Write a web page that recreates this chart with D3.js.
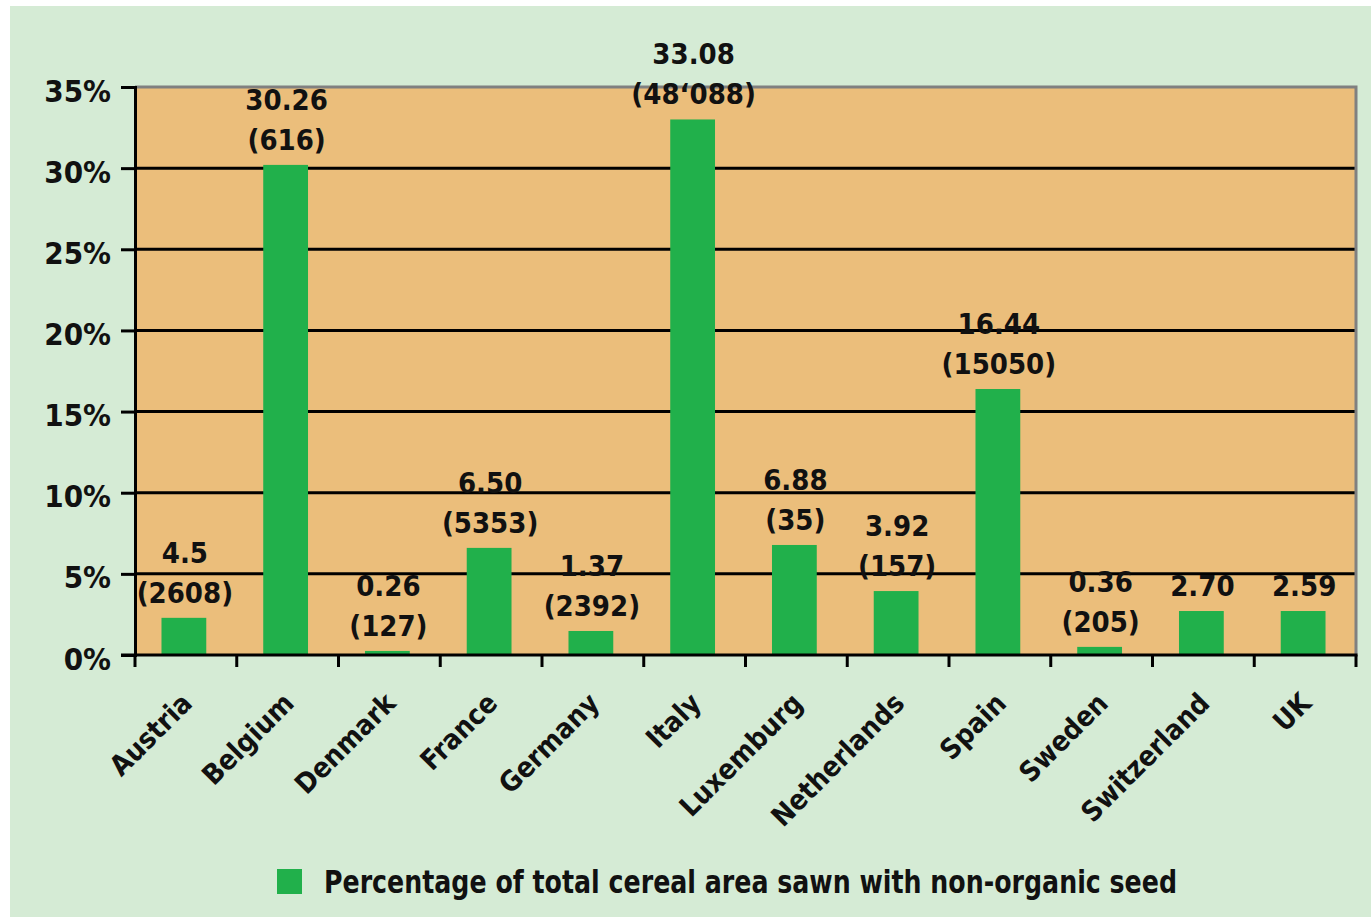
<!DOCTYPE html>
<meta charset="utf-8">
<head>
    <style>
        body {
            margin: 0;
            background-color: #ffffff;
        }
        text {
            font-family: "DejaVu Sans Condensed", "DejaVu Sans", sans-serif;
            font-weight: bold;
            fill: #111111;
        }
        .bar {
            fill: #21b04b;
        }
        .grid line {
            stroke: #000000;
            stroke-width: 3px;
        }
    </style>
    <script src="https://d3js.org/d3.v7.min.js"></script>
</head>
<body>
<div id="chart"></div>
<script>
var countries = ["Austria", "Belgium", "Denmark", "France", "Germany", "Italy",
    "Luxemburg", "Netherlands", "Spain", "Sweden", "Switzerland", "UK"];

// bar heights as drawn in the picture (% of total cereal area)
var barValues = [2.29, 30.2, 0.25, 6.6, 1.48, 33.0, 6.78, 3.94, 16.39, 0.5, 2.71, 2.71];

// the printed labels above each bar
var pctLabels = ["4.5", "30.26", "0.26", "6.50", "1.37", "33.08", "6.88", "3.92", "16.44", "0.36", "2.70", "2.59"];
var areaLabels = ["(2608)", "(616)", "(127)", "(5353)", "(2392)", "(48\u2018088)", "(35)", "(157)", "(15050)", "(205)", "", ""];

var yTicks = [0, 5, 10, 15, 20, 25, 30, 35];
var legendLabel = "Percentage of total cereal area sawn with non-organic seed";

var W = 1371, H = 917;
var margin = { top: 87, right: 15, bottom: 262, left: 135 };

var svg = d3.select("#chart").append("svg")
    .attr("width", W)
    .attr("height", H);

// outer light green panel
svg.append("rect")
    .attr("x", 10).attr("y", 6)
    .attr("width", W - 10).attr("height", H - 6)
    .attr("fill", "#d5ebd5");

var x = d3.scaleBand()
    .domain(countries)
    .range([margin.left, W - margin.right])
    .paddingInner(0.56)
    .paddingOuter(0.28);

var y = d3.scaleLinear()
    .domain([0, 35])
    .range([H - margin.bottom, margin.top]);

var x0 = margin.left, x1 = W - margin.right;

// plot background
svg.append("rect")
    .attr("x", x0).attr("y", y(35))
    .attr("width", x1 - x0).attr("height", y(0) - y(35))
    .attr("fill", "#ebbe7b");

// gridlines
svg.append("g").attr("class", "grid")
    .selectAll("line")
    .data(yTicks.filter(function (d) { return d > 0 && d < 35; }))
    .enter().append("line")
    .attr("x1", x0).attr("x2", x1)
    .attr("y1", function (d) { return y(d); })
    .attr("y2", function (d) { return y(d); });

// gray top and right frame
svg.append("path")
    .attr("d", "M" + x0 + "," + y(35) + "H" + x1 + "V" + y(0))
    .attr("fill", "none")
    .attr("stroke", "#808080")
    .attr("stroke-width", 3);

// bars
svg.append("g")
    .selectAll("rect")
    .data(barValues)
    .enter().append("rect")
    .attr("class", "bar")
    .attr("x", function (d, i) { return x(countries[i]) - 2; })
    .attr("y", function (d) { return y(d); })
    .attr("width", x.bandwidth())
    .attr("height", function (d) { return y(0) - y(d); });

// axes
var yAxis = d3.axisLeft(y).tickValues(yTicks)
    .tickFormat(function (d) { return d + "%"; })
    .tickSize(14).tickPadding(10);

var gy = svg.append("g")
    .attr("transform", "translate(" + x0 + ",0)")
    .call(yAxis);
gy.select(".domain").attr("stroke", "#000").attr("stroke-width", 3);
gy.selectAll(".tick line").attr("stroke", "#000").attr("stroke-width", 3);
gy.selectAll(".tick text")
    .attr("font-size", 31)
    .attr("font-family", null)
    .attr("dy", "0.68em")
    .attr("y", -7);

var gx = svg.append("g")
    .attr("transform", "translate(0," + y(0) + ")");
gx.append("line")
    .attr("x1", x0 - 14).attr("x2", x1 + 1.5)
    .attr("stroke", "#000").attr("stroke-width", 3);
var boundaries = countries.map(function (c) { return x(c) - x.step() * x.paddingOuter(); });
boundaries.push(x1);
gx.selectAll(".xtick")
    .data(boundaries)
    .enter().append("line")
    .attr("class", "xtick")
    .attr("x1", function (d) { return d; })
    .attr("x2", function (d) { return d; })
    .attr("y1", 0).attr("y2", 12)
    .attr("stroke", "#000").attr("stroke-width", 3);

gx.selectAll(".xlabel")
    .data(countries)
    .enter().append("text")
    .attr("class", "xlabel")
    .attr("text-anchor", "end")
    .attr("font-size", 28)
    .attr("transform", function (d) {
        return "translate(" + (x(d) + x.bandwidth() / 2 + 8) + ",50) rotate(-45)";
    })
    .text(function (d) { return d; });

// value labels
var labels = svg.append("g")
    .selectAll("g")
    .data(barValues)
    .enter().append("g")
    .attr("transform", function (d, i) {
        return "translate(" + (x(countries[i]) + x.bandwidth() / 2 - 1) + "," + (y(d) - 15) + ")";
    });

labels.append("text")
    .attr("text-anchor", "middle")
    .attr("font-size", 29)
    .attr("y", function (d, i) { return areaLabels[i] ? -40 : 0; })
    .text(function (d, i) { return pctLabels[i]; });

labels.append("text")
    .attr("text-anchor", "middle")
    .attr("font-size", 29)
    .text(function (d, i) { return areaLabels[i]; });

// legend
var legend = svg.append("g").attr("transform", "translate(277,869)");
legend.append("rect")
    .attr("width", 25).attr("height", 25)
    .attr("class", "bar");
legend.append("text")
    .attr("x", 47).attr("y", 24)
    .attr("font-size", 32)
    .attr("textLength", 853)
    .attr("lengthAdjust", "spacingAndGlyphs")
    .text(legendLabel);
</script>
</body>
